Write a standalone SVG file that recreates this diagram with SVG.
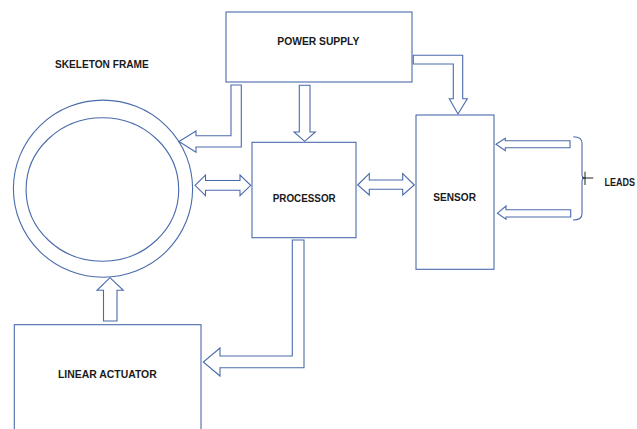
<svg xmlns="http://www.w3.org/2000/svg" width="637" height="429" viewBox="0 0 637 429">
<style>
.b{fill:#fff;stroke:#4a6bab;stroke-width:1.1}
.a{fill:#fff;stroke:#4a6bab;stroke-width:1.1;stroke-linejoin:miter}
.t{font-family:"Liberation Sans",Arial,sans-serif;font-weight:bold;font-size:10px;fill:#1a1a1a}
</style>
<rect width="637" height="429" fill="#fff"/>
<g id="skeleton-frame">
<ellipse class="b" cx="103" cy="188.7" rx="89.6" ry="88.6"/>
<ellipse class="b" cx="102.4" cy="189.5" rx="76.3" ry="71.8"/>
<text class="t" x="55" y="68" textLength="93.7" lengthAdjust="spacingAndGlyphs">SKELETON FRAME</text>
</g>
<g id="power-supply">
<rect class="b" x="226" y="12" width="186" height="70"/>
<text class="t" x="277.3" y="45.3" textLength="82" lengthAdjust="spacingAndGlyphs">POWER SUPPLY</text>
</g>
<g id="processor">
<rect class="b" x="252" y="142.3" width="104" height="95.4"/>
<text class="t" x="272.7" y="202" textLength="63" lengthAdjust="spacingAndGlyphs">PROCESSOR</text>
</g>
<g id="sensor">
<rect class="b" x="416" y="115" width="78" height="154.3"/>
<text class="t" x="433.3" y="200.7" textLength="42.7" lengthAdjust="spacingAndGlyphs">SENSOR</text>
</g>
<g id="linear-actuator">
<rect class="b" x="14.3" y="324.7" width="186.7" height="110"/>
<text class="t" x="58" y="378" textLength="98.7" lengthAdjust="spacingAndGlyphs">LINEAR ACTUATOR</text>
</g>
<g id="leads">
<path d="M573.3,136.7 Q582,137 582,143 L582,174 Q582,178 585,178 Q582,178 582,182 L582,214 Q582,220 573,220" fill="none" stroke="#4a6bab" stroke-width="1.1"/>
<path d="M582,178 H593.3 M585,171.7 V185" stroke="#222" stroke-width="1"/>
<text class="t" x="604.5" y="186" textLength="30.5" lengthAdjust="spacingAndGlyphs">LEADS</text>
</g>
<g id="connectors">
<path class="a" d="M231,85 V135.7 H196 V131 L179,141.5 L196,152.3 V147 H241.3 V85 Z"/>
<path class="a" d="M299.3,85.3 V132 H294 L304.7,141.3 L315.3,132 H310 V85.3 Z"/>
<path class="a" d="M413.3,55.3 H462.7 V98.7 H467.3 L458,114 L449.3,98.7 H453.3 V64 H413.3 Z"/>
<path class="a" d="M195,185.3 L205.5,175 V180.5 H240 V175 L250.7,185.3 L240,195.7 V190.3 H205.5 V195.7 Z"/>
<path class="a" d="M357.7,185 L369.3,173.5 V180 H402.7 V173.5 L414.3,185 L402.7,195 V189.3 H369.3 V195 Z"/>
<path class="a" d="M496,144.2 L505.3,138.3 V140.7 H570 V147.7 H505.3 V150.7 Z"/>
<path class="a" d="M497.3,213.3 L506,206 V209.7 H570.7 V217 H506 V219.3 Z"/>
<path class="a" d="M292.3,240 V356 H220 V348 L203.3,362 L220,376 V367.7 H304 V240 Z"/>
<path class="a" d="M103.5,321 V290.3 H97 L110,277.7 L123.3,290.3 H117 V321 Z"/>
</g>
</svg>
